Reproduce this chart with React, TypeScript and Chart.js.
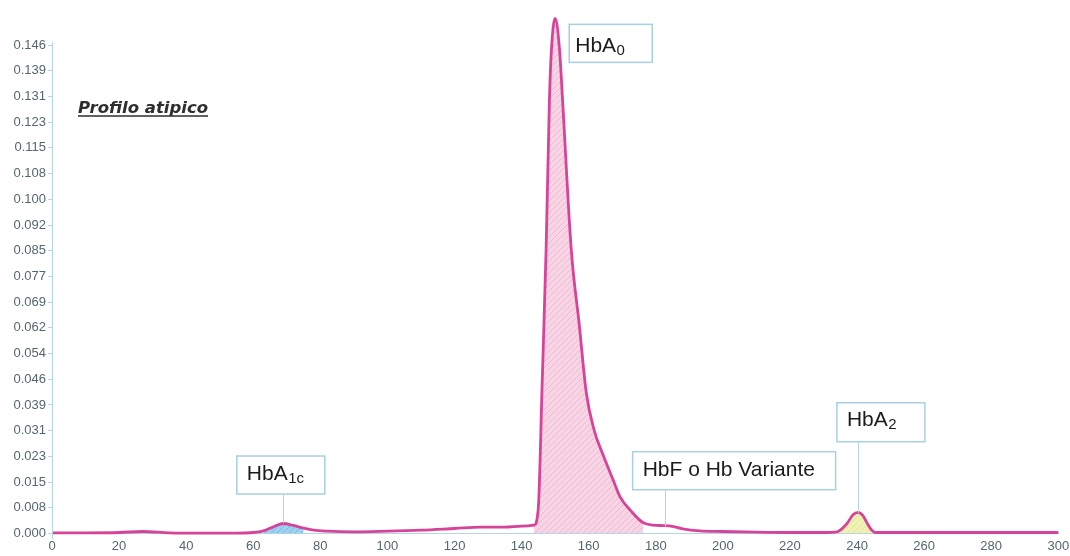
import { useEffect, useRef } from 'react';
import { Chart, registerables } from 'chart.js';

Chart.register(...registerables);

// ---- data ----
const retentionTimes = [
  0, 10, 20, 27, 35, 45, 55, 60, 63, 66, 69, 72, 75, 78, 82, 90, 100, 110, 120, 128, 135, 140,
  143.7, 145.0, 146.1, 147.3, 148.3, 148.9, 150.0, 151.3, 152.2, 154.8, 157.2, 159.3, 161.6, 164.3, 167.3,
  169.4, 172.4, 176.3,
  181, 184, 188, 193, 200, 210, 220, 230, 234, 237, 238.8, 240.3, 241.8, 243, 244.2, 245.5, 250, 260, 270,
  285, 300,
];
const absorbance = [
  0.0002, 0.0002, 0.0003, 0.0006, 0.0002, 0.0001, 0.0001, 0.0003, 0.0008, 0.002, 0.003, 0.0024, 0.0016,
  0.001, 0.0007, 0.0005, 0.0007, 0.001, 0.0015, 0.0019, 0.0019, 0.0022,
  0.0025, 0.008, 0.044, 0.085, 0.13, 0.145, 0.1543, 0.145, 0.13, 0.085, 0.0624, 0.042, 0.031, 0.0235, 0.016,
  0.0109, 0.007, 0.0032,
  0.0024, 0.0023, 0.0014, 0.0008, 0.0006, 0.0004, 0.0003, 0.0003, 0.0005, 0.003, 0.0056, 0.0063, 0.0053,
  0.0031, 0.0012, 0.0003, 0.0003, 0.0003, 0.0003, 0.0003, 0.0003,
];

const yTickLabels = [
  '0.000', '0.008', '0.015', '0.023', '0.031', '0.039', '0.046', '0.054', '0.062', '0.069',
  '0.077', '0.085', '0.092', '0.100', '0.108', '0.115', '0.123', '0.131', '0.139', '0.146',
];
const yTickStep = 0.0077;
const yAxisMax = 0.1562;
const xAxisMax = 300;
const xTickStep = 20;

// peaks
const peakMainText = ['HbA', 'HbA', 'HbF o Hb Variante', 'HbA'];
const peakSubText = ['1c', '0', '', '2'];
const peakRetention = [68.8, 150.0, 182.6, 240.3];
const peakLeaderEnd = [0.0031, null, 0.002, 0.0062];
const fillFrom = [62, 143.5, 233.5];
const fillTo = [76, 177, 244.5];

const title = 'Profilo atipico';

// ---- placement / style (not data) ----
const boxLeft = [55.1, 154.2, 173.1, 234.0];
const boxTop = [0.02321, 0.1525, 0.0245, 0.03917];
const boxWidth = [88, 83, 203, 88];
const boxHeight = [38, 38, 38, 39];
const boxTextDx = [10, 6, 10, 10];
const boxTextDy = [23.5, 27.5, 24.5, 23.5];
const titlePos = { x: 7.75, y: 0.1258 };

const LINE = '#d8439a';
const AXIS = '#b3d5e7';
const TICK_TXT = '#55666f';

function makePattern(bg: string, stripe: string) {
  const c = document.createElement('canvas');
  c.width = 6;
  c.height = 6;
  const g = c.getContext('2d')!;
  g.fillStyle = bg;
  g.fillRect(0, 0, 6, 6);
  g.strokeStyle = stripe;
  g.lineWidth = 1;
  g.beginPath();
  g.moveTo(0, 6);
  g.lineTo(6, 0);
  g.moveTo(-1, 1);
  g.lineTo(1, -1);
  g.moveTo(5, 7);
  g.lineTo(7, 5);
  g.stroke();
  return g.createPattern(c, 'repeat')!;
}

const labelsPlugin = {
  id: 'peakLabels',
  afterDraw(chart: any) {
    const { ctx, scales, chartArea } = chart;
    const x = scales.x;
    const y = scales.y;
    ctx.save();
    // y axis line
    ctx.strokeStyle = AXIS;
    ctx.lineWidth = 1;
    ctx.beginPath();
    ctx.moveTo(chartArea.left + 0.5, y.getPixelForValue(yTickStep * (yTickLabels.length - 1)) - 3);
    ctx.lineTo(chartArea.left + 0.5, chartArea.bottom + 6);
    ctx.stroke();

    for (let i = 0; i < peakMainText.length; i++) {
      const bx = x.getPixelForValue(boxLeft[i]);
      const by = y.getPixelForValue(boxTop[i]);
      const w = boxWidth[i];
      const h = boxHeight[i];
      const end = peakLeaderEnd[i];
      if (end !== null) {
        const lx = Math.round(x.getPixelForValue(peakRetention[i])) + 0.5;
        ctx.strokeStyle = AXIS;
        ctx.lineWidth = 1;
        ctx.beginPath();
        ctx.moveTo(lx, by + h);
        ctx.lineTo(lx, y.getPixelForValue(end));
        ctx.stroke();
      }
      ctx.fillStyle = '#ffffff';
      ctx.fillRect(bx, by, w, h);
      ctx.strokeStyle = '#a9cfe1';
      ctx.lineWidth = 1.5;
      ctx.strokeRect(bx, by, w, h);
      ctx.fillStyle = '#1c1c1c';
      ctx.textBaseline = 'alphabetic';
      ctx.textAlign = 'left';
      ctx.font = '21px "Liberation Sans", Arial, sans-serif';
      ctx.fillText(peakMainText[i], bx + boxTextDx[i], by + boxTextDy[i]);
      if (peakSubText[i]) {
        const mw = ctx.measureText(peakMainText[i]).width;
        ctx.font = '15px "Liberation Sans", Arial, sans-serif';
        ctx.fillText(peakSubText[i], bx + boxTextDx[i] + mw + 0.5, by + boxTextDy[i] + 3);
      }
    }

    // title
    const tx = x.getPixelForValue(titlePos.x);
    const ty = y.getPixelForValue(titlePos.y);
    ctx.font = 'italic bold 16.5px "DejaVu Sans", sans-serif';
    ctx.fillStyle = '#2e2e2e';
    ctx.fillText(title, tx, ty);
    const tw = ctx.measureText(title).width;
    ctx.strokeStyle = '#2e2e2e';
    ctx.lineWidth = 1.5;
    ctx.beginPath();
    ctx.moveTo(tx, ty + 2.5);
    ctx.lineTo(tx + tw, ty + 2.5);
    ctx.stroke();
    ctx.restore();
  },
};

function pointsIn(lo: number, hi: number) {
  const pts: { x: number; y: number }[] = [];
  retentionTimes.forEach((t, i) => {
    if (t >= lo && t <= hi) pts.push({ x: t, y: absorbance[i] });
  });
  return pts;
}

export default function App() {
  const ref = useRef<HTMLCanvasElement>(null);
  useEffect(() => {
    if (!ref.current) return;
    const fills = [
      makePattern('rgba(140,202,238,0.85)', 'rgba(110,180,225,0.8)'),
      makePattern('rgba(247,208,226,0.9)', 'rgba(238,176,206,0.8)'),
      makePattern('rgba(238,241,176,0.95)', 'rgba(225,228,150,0.8)'),
    ];
    const mainPts = retentionTimes.map((t, i) => ({ x: t, y: absorbance[i] }));
    const chart = new Chart(ref.current, {
      type: 'line',
      data: {
        datasets: [
          {
            data: mainPts,
            borderColor: LINE,
            borderWidth: 2.8,
            pointRadius: 0,
            fill: false,
            cubicInterpolationMode: 'monotone',
            clip: false,
          } as any,
          ...fills.map((p, k) => ({
            data: pointsIn(fillFrom[k], fillTo[k]),
            borderWidth: 0,
            borderColor: 'rgba(0,0,0,0)',
            backgroundColor: p,
            pointRadius: 0,
            fill: 'origin',
            cubicInterpolationMode: 'monotone',
            clip: false,
          } as any)),
        ],
      },
      options: {
        animation: false,
        responsive: true,
        maintainAspectRatio: false,
        layout: { padding: { top: 12, right: 11.7, left: 0, bottom: 0 } },
        plugins: { legend: { display: false }, tooltip: { enabled: false }, title: { display: false } },
        scales: {
          x: {
            type: 'linear',
            min: 0,
            max: xAxisMax,
            grid: { display: false, drawTicks: false },
            border: { display: true, color: AXIS, width: 1 },
            ticks: {
              stepSize: xTickStep,
              padding: 5,
              color: TICK_TXT,
              font: { family: '"Liberation Sans", Arial, sans-serif', size: 13 },
              maxRotation: 0,
              autoSkip: false,
            },
            afterFit(scale: any) {
              scale.height = 22.5;
              scale.paddingRight = 0;
              scale.paddingLeft = 0;
            },
          },
          y: {
            type: 'linear',
            min: 0,
            max: yAxisMax,
            grid: { display: true, drawOnChartArea: false, drawTicks: true, tickLength: 4, color: AXIS },
            border: { display: false },
            afterBuildTicks(scale: any) {
              scale.ticks = yTickLabels.map((_, i) => ({ value: i * yTickStep }));
            },
            ticks: {
              padding: 2,
              color: TICK_TXT,
              font: { family: '"Liberation Sans", Arial, sans-serif', size: 13 },
              callback: (_v: any, i: number) => yTickLabels[i],
            },
            afterFit(scale: any) {
              scale.width = 52;
            },
          },
        },
      },
      plugins: [labelsPlugin],
    });
    return () => chart.destroy();
  }, []);
  return (
    <div style={{ position: 'absolute', left: 0, top: 0, width: 1070, height: 556, background: '#fff' }}>
      <canvas ref={ref} />
    </div>
  );
}
